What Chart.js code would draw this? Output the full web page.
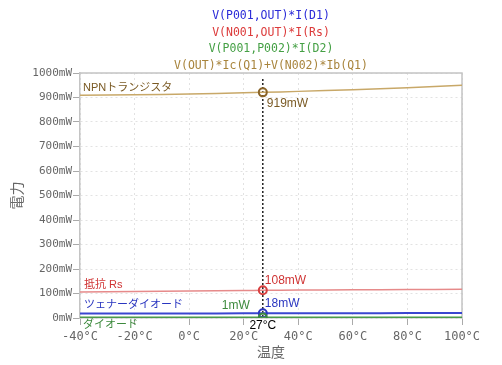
<!DOCTYPE html>
<html lang="ja">
<head>
  <meta charset="UTF-8">
  <title>電力 vs 温度</title>
  <script src="https://cdn.jsdelivr.net/npm/chart.js"></script>
  <style>
    html, body { margin: 0; padding: 0; background: #fff; }
    #box { width: 502px; height: 365px; }
  </style>
</head>
<body>
  <div id="box"><canvas id="grafico"></canvas></div>

<script>
  // temperatura (°C)
  const temperaturas = [-40, -20, 0, 20, 27, 40, 60, 80, 100];

  // potências (mW)
  const potNpn = [909, 911, 914, 919, 921, 925, 932, 940, 950];
  const potRs = [106, 108, 110, 112, 113, 114, 115, 116, 117];
  const potZener = [18, 18, 18, 19, 19, 19, 19, 20, 20];
  const potDiodo = [2, 2, 2, 2, 2, 2, 2, 2, 2];

  const legendas = ['V(P001,OUT)*I(D1)', 'V(N001,OUT)*I(Rs)', 'V(P001,P002)*I(D2)', 'V(OUT)*Ic(Q1)+V(N002)*Ib(Q1)'];
  const coresLegenda = ['#2a2ad8', '#dc3a3a', '#45a045', '#a8843c'];

  const nomesSerie = ['ツェナーダイオード', '抵抗 Rs', 'ダイオード', 'NPNトランジスタ'];
  const rotulosValor = ['18mW', '108mW', '1mW', '919mW'];
  const tempMarcador = 27;

  const mono = "'DejaVu Sans Mono', monospace";
  const sans = "'Liberation Sans', 'Noto Sans CJK JP', sans-serif";

  function serie(dados, cor, corPonto, largura) {
    return {
      data: temperaturas.map((t, i) => ({ x: t, y: dados[i] })),
      borderColor: cor,
      borderWidth: largura,
      pointRadius: ctx => temperaturas[ctx.dataIndex] === tempMarcador ? 4 : 0,
      pointBorderWidth: 2,
      pointBorderColor: corPonto,
      pointBackgroundColor: 'rgba(255,255,255,0)',
      tension: 0.3,
      fill: false
    };
  }

  const plugTextos = {
    id: 'textos',
    beforeDatasetsDraw(chart) {
      const { ctx, chartArea: a, scales: { x } } = chart;
      ctx.save();
      // moldura superior e direita
      ctx.strokeStyle = '#c4c4c4';
      ctx.lineWidth = 1.5;
      ctx.beginPath();
      ctx.moveTo(a.left, a.top);
      ctx.lineTo(a.right, a.top);
      ctx.lineTo(a.right, a.bottom);
      ctx.stroke();
      // linha tracejada em 27°C
      const px = x.getPixelForValue(tempMarcador);
      ctx.strokeStyle = '#000';
      ctx.lineWidth = 1.3;
      ctx.setLineDash([2, 2]);
      ctx.beginPath();
      ctx.moveTo(px, a.top + 6);
      ctx.lineTo(px, a.bottom);
      ctx.stroke();
      ctx.restore();
    },
    afterDraw(chart) {
      const { ctx, chartArea: a, scales: { x, y } } = chart;
      const px = x.getPixelForValue(tempMarcador);
      const idx = temperaturas.indexOf(tempMarcador);
      ctx.save();

      // legenda no topo
      ctx.font = '11.5px ' + mono;
      ctx.textAlign = 'center';
      ctx.textBaseline = 'middle';
      const cx = (a.left + a.right) / 2;
      legendas.forEach((txt, i) => {
        ctx.fillStyle = coresLegenda[i];
        ctx.fillText(txt, cx, 16 + i * 16.7);
      });

      ctx.textAlign = 'left';
      ctx.font = '11px ' + sans;

      // nomes das séries
      ctx.fillStyle = '#7a5a24';
      ctx.fillText(nomesSerie[3], a.left + 3, y.getPixelForValue(potNpn[0]) - 7);
      ctx.fillStyle = '#d03434';
      ctx.fillText(nomesSerie[1], a.left + 4, y.getPixelForValue(potRs[0]) - 7);
      ctx.fillStyle = '#2a36c0';
      ctx.fillText(nomesSerie[0], a.left + 4, y.getPixelForValue(potZener[0]) - 9);
      ctx.fillStyle = '#3d8a3d';
      ctx.fillText(nomesSerie[2], a.left + 3, y.getPixelForValue(potDiodo[0]) + 7);

      // valores em 27°C
      ctx.font = '12px ' + sans;
      ctx.fillStyle = '#7a5a24';
      ctx.fillText(rotulosValor[3], px + 4, y.getPixelForValue(potNpn[idx]) + 11);
      ctx.fillStyle = '#d03434';
      ctx.fillText(rotulosValor[1], px + 2, y.getPixelForValue(potRs[idx]) - 10);
      ctx.fillStyle = '#2a36c0';
      ctx.fillText(rotulosValor[0], px + 2, y.getPixelForValue(potZener[idx]) - 10);
      ctx.fillStyle = '#3d8a3d';
      ctx.textAlign = 'right';
      ctx.fillText(rotulosValor[2], px - 13, y.getPixelForValue(potDiodo[idx]) - 12);
      ctx.fillStyle = '#000';
      ctx.textAlign = 'center';
      ctx.fillText(tempMarcador + '°C', px, a.bottom + 8);

      ctx.restore();
    }
  };

  const config = {
    type: 'line',
    data: {
      datasets: [
        serie(potDiodo, '#4a9a4a', '#3d8a3d', 2),
        serie(potZener, '#3a46d0', '#2a36c0', 2),
        serie(potRs, '#e68a8a', '#d84040', 1.5),
        serie(potNpn, '#c8a868', '#8a6428', 1.5)
      ]
    },
    options: {
      responsive: true,
      maintainAspectRatio: false,
      animation: false,
      layout: { padding: { top: 73, right: 40, left: 0, bottom: 0 } },
      plugins: {
        legend: { display: false },
        tooltip: { enabled: false }
      },
      scales: {
        x: {
          type: 'linear',
          min: -40,
          max: 100,
          afterFit: s => { s.height = 47; },
          ticks: {
            stepSize: 20,
            padding: 5,
            color: '#666',
            font: { family: mono, size: 12 },
            callback: v => v + '°C',
            maxRotation: 0
          },
          grid: { color: '#e2e2e2', tickColor: '#aaa', tickLength: 7, tickBorderDash: [] },
          border: { color: '#c4c4c4', width: 1.5, dash: [2, 3] },
          title: { display: true, text: '温度', color: '#666', font: { family: sans, size: 14 }, padding: { top: 0, bottom: 3 } }
        },
        y: {
          min: 0,
          max: 1000,
          afterFit: s => { s.width = 80; },
          ticks: {
            stepSize: 100,
            padding: 1,
            color: '#666',
            font: { family: mono, size: 11 },
            callback: v => v + 'mW'
          },
          grid: { color: '#e2e2e2', tickColor: '#aaa', tickLength: 7, tickBorderDash: [] },
          border: { color: '#c4c4c4', width: 1.5, dash: [2, 3] },
          title: { display: true, text: '電力', color: '#666', font: { family: sans, size: 14 }, padding: { top: 10, bottom: 3 } }
        }
      }
    },
    plugins: [plugTextos]
  };

  new Chart(document.getElementById('grafico'), config);
</script>
</body>
</html>
